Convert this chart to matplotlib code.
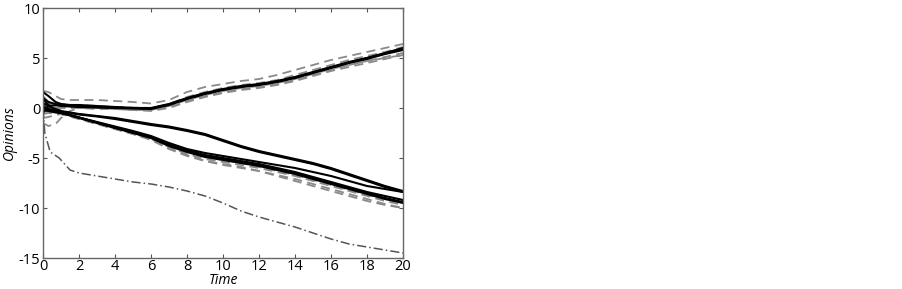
import matplotlib
matplotlib.use("Agg")
import matplotlib.pyplot as plt

plt.rcParams['font.family'] = ['Open Sans', 'DejaVu Sans']
plt.rcParams['axes.unicode_minus'] = False

time = [0, 0.3, 0.7, 1, 1.5, 2, 3, 4, 5, 6, 7, 8, 9, 10, 11, 12, 13, 14, 15, 16, 17, 18, 19, 20]

# upper cluster
u1 = [1.7, 1.6, 1.2, 0.9, 0.8, 0.8, 0.8, 0.7, 0.6, 0.45, 0.8, 1.6, 2.1, 2.4, 2.7, 2.9, 3.3, 3.8, 4.3, 4.8, 5.2, 5.6, 6.0, 6.4]
u2 = [1.6, 1.2, 0.6, 0.4, 0.3, 0.3, 0.2, 0.1, 0.0, 0.0, 0.4, 1.0, 1.5, 1.9, 2.2, 2.4, 2.7, 3.1, 3.6, 4.1, 4.6, 5.0, 5.5, 6.0]
u3 = [-0.5, 0.2, 0.3, 0.2, 0.15, 0.1, 0.05, 0.0, -0.05, -0.1, 0.3, 0.9, 1.4, 1.8, 2.1, 2.3, 2.6, 3.0, 3.5, 4.0, 4.5, 4.9, 5.4, 5.8]
u4 = [0.8, 0.5, 0.3, 0.2, 0.1, 0.1, 0.0, -0.1, -0.1, -0.2, 0.1, 0.7, 1.2, 1.6, 1.9, 2.1, 2.4, 2.8, 3.3, 3.8, 4.3, 4.7, 5.1, 5.5]
u5 = [-1.5, -1.8, -1.6, -1.0, -0.3, 0.0, 0.0, -0.1, -0.2, -0.2, 0.2, 0.8, 1.3, 1.7, 2.0, 2.2, 2.5, 2.9, 3.4, 3.9, 4.3, 4.7, 5.0, 5.3]
u6 = [1.0, 0.6, 0.4, 0.3, 0.2, 0.2, 0.1, 0.05, 0.0, -0.05, 0.35, 0.95, 1.45, 1.85, 2.15, 2.35, 2.65, 3.05, 3.55, 4.05, 4.55, 5.0, 5.45, 5.9]
u7 = [0.3, 0.4, 0.5, 0.4, 0.3, 0.3, 0.2, 0.1, 0.05, 0.0, 0.4, 1.1, 1.6, 2.0, 2.3, 2.5, 2.8, 3.3, 3.8, 4.3, 4.8, 5.2, 5.6, 6.1]
u8 = [-0.3, 0.0, 0.1, 0.0, 0.0, 0.0, -0.1, -0.1, -0.2, -0.3, 0.0, 0.6, 1.1, 1.5, 1.8, 2.0, 2.3, 2.7, 3.2, 3.7, 4.1, 4.5, 4.9, 5.3]

# middle subgroup
m1 = [0.5, 0.2, -0.1, -0.3, -0.45, -0.6, -0.8, -1.0, -1.3, -1.6, -1.85, -2.2, -2.6, -3.2, -3.8, -4.3, -4.7, -5.1, -5.5, -6.0, -6.6, -7.2, -7.8, -8.3]
m2 = [0.0, -0.1, -0.25, -0.35, -0.5, -0.65, -0.85, -1.1, -1.4, -1.7, -1.95, -2.3, -2.7, -3.3, -3.9, -4.4, -4.8, -5.2, -5.6, -6.1, -6.7, -7.3, -7.9, -8.4]
m3 = [1.2, 0.6, 0.1, -0.25, -0.45, -0.6, -0.8, -1.05, -1.35, -1.65, -1.9, -2.25, -2.65, -3.25, -3.85, -4.35, -4.75, -5.15, -5.6, -6.1, -6.7, -7.3, -7.9, -8.4]

# lower cluster
l1 = [0.0, -0.2, -0.35, -0.45, -0.7, -0.95, -1.4, -1.85, -2.3, -2.8, -3.5, -4.1, -4.5, -4.8, -5.1, -5.4, -5.7, -6.0, -6.4, -6.8, -7.3, -7.8, -8.1, -8.4]
l2 = [-0.2, -0.3, -0.45, -0.5, -0.75, -1.0, -1.5, -2.0, -2.5, -3.0, -3.8, -4.4, -4.9, -5.2, -5.5, -5.8, -6.2, -6.6, -7.1, -7.6, -8.1, -8.6, -9.1, -9.5]
l3 = [0.4, 0.0, -0.3, -0.5, -0.75, -1.05, -1.55, -2.05, -2.55, -3.1, -3.9, -4.6, -5.1, -5.4, -5.7, -6.0, -6.4, -6.8, -7.3, -7.8, -8.3, -8.8, -9.3, -9.7]
l4 = [-0.6, -0.5, -0.55, -0.6, -0.85, -1.1, -1.6, -2.1, -2.6, -3.15, -4.0, -4.7, -5.3, -5.7, -6.0, -6.3, -6.7, -7.1, -7.6, -8.1, -8.6, -9.1, -9.6, -10.0]
l5 = [0.9, 0.3, -0.2, -0.45, -0.7, -0.95, -1.45, -1.95, -2.45, -2.95, -3.7, -4.3, -4.8, -5.1, -5.4, -5.7, -6.1, -6.5, -7.0, -7.5, -8.0, -8.5, -9.0, -9.4]
l6 = [-1.0, -0.9, -0.7, -0.6, -0.8, -1.0, -1.5, -2.0, -2.5, -3.0, -3.7, -4.3, -4.8, -5.2, -5.5, -5.9, -6.3, -6.7, -7.2, -7.7, -8.2, -8.7, -9.1, -9.4]
l7 = [0.2, -0.1, -0.35, -0.5, -0.7, -0.95, -1.45, -1.95, -2.4, -2.9, -3.6, -4.2, -4.7, -5.0, -5.3, -5.6, -6.0, -6.4, -6.9, -7.4, -7.9, -8.4, -8.8, -9.2]
l8 = [-0.3, -0.4, -0.5, -0.6, -0.85, -1.1, -1.6, -2.1, -2.6, -3.2, -4.1, -4.8, -5.3, -5.6, -5.9, -6.3, -6.8, -7.3, -7.8, -8.3, -8.8, -9.3, -9.7, -10.0]

# outlier
out_time = [0, 0.1, 0.4, 0.9, 1.2, 1.5, 2, 3, 4, 5, 6, 7, 8, 9, 10, 11, 12, 13, 14, 15, 16, 17, 18, 19, 20]
outlier = [0, -2.5, -4.4, -5.0, -5.6, -6.2, -6.5, -6.8, -7.1, -7.4, -7.6, -7.9, -8.3, -8.8, -9.5, -10.3, -10.9, -11.4, -11.9, -12.5, -13.1, -13.6, -13.9, -14.2, -14.5]

solid_series = [u2, u3, u6, m1, m2, l1, l2, l5, l7]
dashed_series = [u1, u4, u5, u7, u8, m3, l3, l4, l6, l8]

xticks = [0, 2, 4, 6, 8, 10, 12, 14, 16, 18, 20]
yticks = [-15, -10, -5, 0, 5, 10]

fig = plt.figure(figsize=(9.03, 2.89), dpi=100)
ax = fig.add_axes([43/903, 1 - 258/289, 360/903, 250/289])

for s in dashed_series:
    ax.plot(time, s, color='#8a8a8a', lw=1.3, ls=(0, (5, 3)))
for s in solid_series:
    ax.plot(time, s, color='black', lw=1.5)
ax.plot(out_time, outlier, color='#555555', lw=1.1, ls=(0, (6, 2, 1, 2)))

ax.set_xlim(0, 20)
ax.set_ylim(-15, 10)
ax.set_xticks(xticks)
ax.set_yticks(yticks)
ax.tick_params(direction='in', length=3, top=True, right=True, labelsize=10.5, pad=2, color='#555555')
ax.tick_params(axis='x', pad=1)
for sp in ax.spines.values():
    sp.set_color('#666666')
    sp.set_linewidth(1.0)
ax.set_xlabel('Time', style='italic', fontsize=10, labelpad=-1)
ax.set_ylabel('Opinions', style='italic', fontsize=10, labelpad=1)

fig.savefig('out.png', dpi=100)
